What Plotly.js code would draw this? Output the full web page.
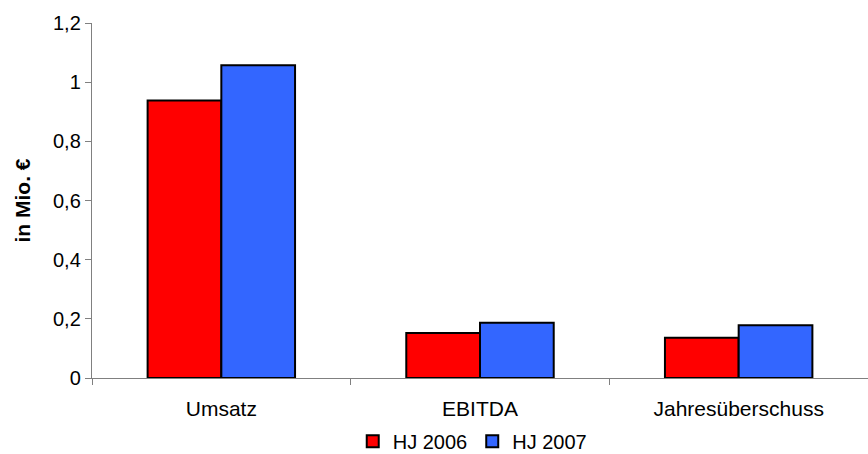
<!DOCTYPE html>
<html>
<head>
<meta charset="utf-8">
<script src="https://cdn.plot.ly/plotly-3.0.1.min.js"></script>
<style>html,body{margin:0;padding:0;background:#fff;}#chart{width:868px;height:454px;}</style>
</head>
<body>
<div id="chart"></div>
<script>
var categories = ["Umsatz", "EBITDA", "Jahresüberschuss"];
var seriesNames = ["HJ 2006", "HJ 2007"];
var hj2006 = [0.938, 0.152, 0.136];
var hj2007 = [1.057, 0.187, 0.178];
var yTicks = [0, 0.2, 0.4, 0.6, 0.8, 1, 1.2];

var fam = "Liberation Sans, Arial, sans-serif";
var font = {family: fam, size: 21, color: "#000"};
var lfont = {family: fam, size: 20, color: "#000"};
var yfont = {family: fam, size: 20, color: "#000"};

var traces = [
  {type: "bar", name: seriesNames[0], x: categories, y: hj2006,
   marker: {color: "#FF0000", line: {color: "#000", width: 2}}},
  {type: "bar", name: seriesNames[1], x: categories, y: hj2007,
   marker: {color: "#3366FF", line: {color: "#000", width: 2}}}
];

var layout = {
  width: 868, height: 454,
  margin: {l: 92, r: 0, t: 23, b: 76},
  paper_bgcolor: "#fff", plot_bgcolor: "#fff",
  separators: ", ",
  font: font,
  barmode: "group",
  bargap: 0.43,
  bargroupgap: 0,
  showlegend: true,
  legend: {orientation: "h", x: 0.49, xanchor: "center", xref: "paper",
           yref: "container", y: 0.028, yanchor: "middle",
           bgcolor: "rgba(0,0,0,0)",
           font: lfont, itemwidth: 30, tracegroupgap: 0},
  xaxis: {
    type: "category", automargin: false,
    showline: true, linecolor: "#808080", linewidth: 1.2,
    ticks: "outside", tickson: "boundaries", ticklen: 6, tickcolor: "#808080",
    ticklabelstandoff: 12,
    showgrid: false, zeroline: false, tickfont: font
  },
  yaxis: {
    range: [0, 1.2], tickvals: yTicks, automargin: false,
    showline: true, linecolor: "#808080", linewidth: 1.2,
    ticks: "outside", ticklen: 6, tickcolor: "#808080",
    showgrid: false, zeroline: false, tickfont: yfont,
    title: {text: "in Mio. €", font: {family: fam, size: 21, color: "#000", weight: "bold"}, standoff: 16}
  }
};

Plotly.newPlot("chart", traces, layout, {displayModeBar: false, staticPlot: true});
</script>
</body>
</html>
